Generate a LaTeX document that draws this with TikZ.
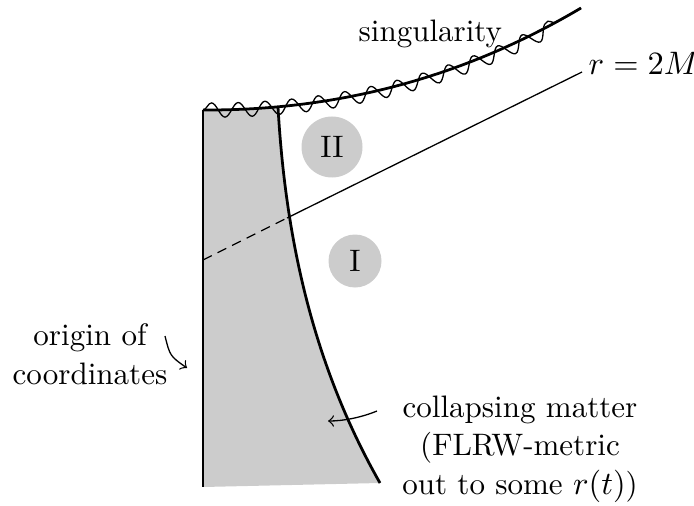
\documentclass[tikz,border=0pt]{standalone}
\usetikzlibrary{decorations.pathmorphing}
\begin{document}
\begin{tikzpicture}[x=0.3077pt,y=-0.3077pt,
  font=\fontsize{9.55pt}{11.85pt}\selectfont,
  bound/.style={line width=0.85pt},
  thinline/.style={line width=0.4pt},
  region/.style={circle,fill=black!20,inner sep=0pt},
  lbl/.style={inner sep=0pt,align=center},
  wave/.style={thinline,decorate,decoration={snake,segment length=8.3pt,amplitude=2.2pt,post length=5pt}},
  pointer/.style={thinline,->}]
\useasboundingbox (0,0) rectangle (694,506);
% points
\coordinate (sA) at (203,110);
\coordinate (sB) at (581,8);
\coordinate (mTop) at (278,107);
\coordinate (mBot) at (380,483);
\coordinate (oBot) at (203,487);
\coordinate (hL) at (203,260);
\coordinate (hM) at (287,218);
\coordinate (hR) at (582,72);
% matter
\fill[black!20] (sA) -- (mTop) .. controls (285,230) and (310,360) .. (mBot) -- (oBot) -- cycle;
\draw[bound] (mTop) .. controls (285,230) and (310,360) .. (mBot);
\draw[bound] (sA) -- (oBot);
% horizon
\draw[thinline,dash pattern=on 3pt off 2pt] (hL) -- (hM);
\draw[thinline] (hM) -- (hR);
% singularity
\draw[bound] (sA) .. controls (340,110.7) and (465,76.7) .. (sB);
\draw[wave] (sA) .. controls (340,110.7) and (465,76.7) .. (sB);
% regions
\node[region,minimum size=61*0.3077pt] (II) at (332,147) {II};
\node[region,minimum size=53*0.3077pt] (I) at (355,261) {I};
% labels
\node[lbl,anchor=base west] (sing) at (358,42) {singularity};
\node[lbl,anchor=base west] (rlab) at (588,75) {$r=2M$};
\node[lbl] (orig) at (90,354) {origin of\\coordinates};
\node[lbl] (coll) at (520,449) {collapsing matter\\(FLRW-metric\\out to some $r(t)$)};
% pointers
\coordinate (oS) at (165,336);
\coordinate (oE) at (187,368);
\draw[pointer] (oS) .. controls (170,356) .. (oE);
\coordinate (cS) at (377,411);
\coordinate (cE) at (328,421);
\draw[pointer] (cS) .. controls (360,418) and (342,421) .. (cE);
\end{tikzpicture}
\end{document}
